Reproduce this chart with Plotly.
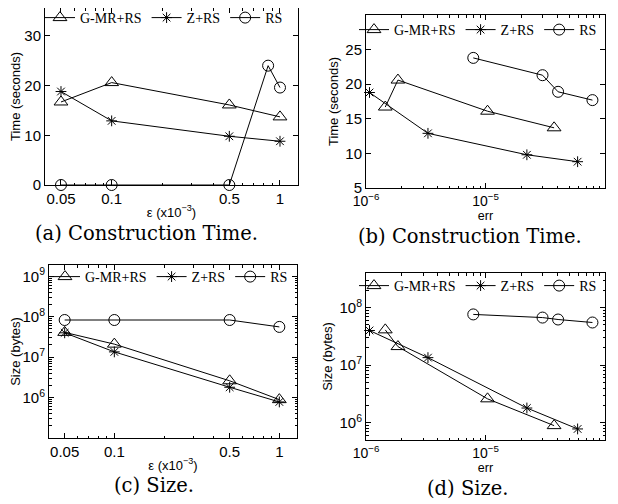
import plotly.graph_objects as go

# ---------------- data ----------------
eps = [0.05, 0.1, 0.5, 1]
eps_tick_text = ["0.05", "0.1", "0.5", "1"]

time_gmr = [16.7, 20.6, 16.1, 13.7]
time_z = [18.8, 12.9, 9.8, 8.8]
eps_rs_a = [0.05, 0.1, 0.5, 0.85, 1]
time_rs_a = [0, 0, 0, 24, 19.6]

err_gmr = [1.45e-6, 1.85e-6, 1.04e-5, 3.75e-5]
err_z = [1.07e-6, 3.3e-6, 2.22e-5, 5.9e-5]
err_rs = [7.9e-6, 3.0e-5, 4.05e-5, 7.85e-5]
time_rs_b = [23.8, 21.3, 18.9, 17.7]

size_gmr = [4.1e7, 2.1e7, 2.6e6, 8.9e5]
size_z = [4.0e7, 1.35e7, 1.8e6, 7.8e5]
size_rs_c = [8.3e7, 8.3e7, 8.3e7, 5.6e7]
size_rs_d = [7.6e7, 6.7e7, 6.2e7, 5.5e7]

err_tick_vals = [1e-6, 1e-5, 1e-4]
err_tick_text = ["10<sup>−6</sup>", "10<sup>−5</sup>", "10<sup>−4</sup>"]

series_names = ["G-MR+RS", "Z+RS", "RS"]
captions = ["(a) Construction Time.", "(b) Construction Time.", "(c) Size.", "(d) Size."]

# ---------------- layout geometry (page pixels; page body has an 8px margin) ----------------
PAGE_W, PAGE_H, OFF = 618, 504, 8
W, H = PAGE_W - OFF, PAGE_H - OFF

def px(x):
    return (x - OFF) / W
def py(y):
    return 1 - (y - OFF) / H
def xd(l, r):
    return [max(0, px(l)), min(1, px(r))]
def yd(t, b):
    return [max(0, py(b)), min(1, py(t))]

SANS = "Liberation Sans"
SERIF = "Liberation Serif"

fig = go.Figure()

symbols = ["triangle-up-open", "asterisk-open", "circle-open"]
msizes = [12, 9, 11]

def add(xs, ys, k, ax, leg):
    fig.add_trace(go.Scatter(
        x=xs, y=ys, mode="lines+markers", name=series_names[k],
        line=dict(color="black", width=1),
        marker=dict(symbol=symbols[k], size=msizes[k], color="black",
                    line=dict(color="black", width=1)),
        xaxis="x" + ax, yaxis="y" + ax, legend=leg, cliponaxis=False,
    ))

add(eps, time_gmr, 0, "", "legend")
add(eps, time_z, 1, "", "legend")
add(eps_rs_a, time_rs_a, 2, "", "legend")

add(err_gmr, time_gmr, 0, "2", "legend2")
add(err_z, time_z, 1, "2", "legend2")
add(err_rs, time_rs_b, 2, "2", "legend2")

add(eps, size_gmr, 0, "3", "legend3")
add(eps, size_z, 1, "3", "legend3")
add(eps, size_rs_c, 2, "3", "legend3")

add(err_gmr, size_gmr, 0, "4", "legend4")
add(err_z, size_z, 1, "4", "legend4")
add(err_rs, size_rs_d, 2, "4", "legend4")

base_axis = dict(showline=True, linecolor="black", linewidth=1, mirror="allticks",
                 ticks="inside", ticklen=5, tickcolor="black", showgrid=False,
                 zeroline=False, automargin=False,
                 tickfont=dict(family=SANS, size=15, color="black"))

def minor_log(e0, e1):
    return [k * 10 ** e for e in range(e0, e1) for k in range(2, 10)]

minor_style = dict(ticks="inside", ticklen=2.5, tickcolor="black", showgrid=False)

eps_x = dict(base_axis, type="log", range=[-1.396, 0.107], tickmode="array",
             tickvals=eps, ticktext=eps_tick_text,
             minor=dict(minor_style, tickvals=minor_log(-2, 1)),
             title=dict(text="ε (x10<sup>−3</sup>)", font=dict(family=SANS, size=13, color="black"), standoff=1))
err_x = dict(base_axis, type="log", range=[-6, -4], tickmode="array",
             tickvals=err_tick_vals, ticktext=err_tick_text,
             tickfont=dict(family=SANS, size=14, color="black"),
             minor=dict(minor_style, tickvals=minor_log(-6, -4)),
             title=dict(text="err", font=dict(family=SANS, size=12.5, color="black"), standoff=0))

time_title = dict(text="Time (seconds)", font=dict(family=SANS, size=13, color="black"), standoff=3)
size_title = dict(text="Size (bytes)", font=dict(family=SANS, size=13, color="black"), standoff=3)

fig.update_layout(
    width=W, height=H, margin=dict(l=0, r=0, t=0, b=0, autoexpand=False),
    paper_bgcolor="white", plot_bgcolor="white",
    xaxis=dict(eps_x, domain=xd(45, 298), anchor="y"),
    yaxis=dict(base_axis, domain=yd(8, 185), anchor="x", range=[0, 35.6],
               tickvals=[0, 10, 20, 30], title=time_title),
    xaxis2=dict(err_x, domain=xd(366, 605), anchor="y2"),
    yaxis2=dict(base_axis, domain=yd(15, 188), anchor="x2", range=[5, 30],
                tickvals=[5, 10, 15, 20, 25, 30], title=time_title),
    xaxis3=dict(eps_x, domain=xd(49, 297), anchor="y3"),
    yaxis3=dict(base_axis, domain=yd(265, 438), anchor="x3", type="log", range=[5, 9.28],
                tickmode="array", tickvals=[1e6, 1e7, 1e8, 1e9],
                ticktext=["10<sup>6</sup>", "10<sup>7</sup>", "10<sup>8</sup>", "10<sup>9</sup>"],
                minor=dict(minor_style, tickvals=minor_log(5, 9)), title=size_title),
    xaxis4=dict(err_x, domain=xd(366, 605), anchor="y4"),
    yaxis4=dict(base_axis, domain=yd(273, 440), anchor="x4", type="log", range=[5.7, 8.6],
                tickmode="array", tickvals=[1e6, 1e7, 1e8],
                ticktext=["10<sup>6</sup>", "10<sup>7</sup>", "10<sup>8</sup>"],
                minor=dict(minor_style, tickvals=minor_log(5, 9)), title=size_title),
    showlegend=True,
)

leg_common = dict(orientation="h", bgcolor="rgba(0,0,0,0)", borderwidth=0,
                  font=dict(family=SERIF, size=14, color="black"),
                  xanchor="left", yanchor="middle", itemwidth=30, tracegroupgap=0)
fig.update_layout(
    legend=dict(leg_common, x=px(40), y=py(18)),
    legend2=dict(leg_common, x=px(354), y=py(30)),
    legend3=dict(leg_common, x=px(45), y=py(277)),
    legend4=dict(leg_common, x=px(354), y=py(286)),
)

cap_pos = [(146, 233), (470, 236), (154, 485), (468, 488)]
for text, (cx, cy) in zip(captions, cap_pos):
    fig.add_annotation(text=text, xref="paper", yref="paper", x=px(cx), y=py(cy),
                       showarrow=False, xanchor="center", yanchor="middle",
                       font=dict(family="DejaVu Serif", size=19.5, color="black"))

fig.write_html("out.html")
